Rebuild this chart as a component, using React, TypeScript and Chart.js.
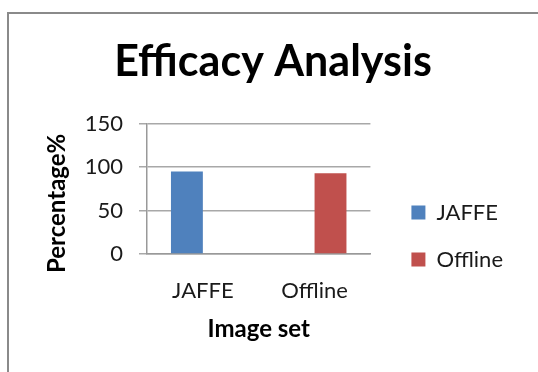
import React, { useEffect, useRef } from "react";
import { Chart, registerables } from "chart.js";

Chart.register(...registerables);

const categories = ["JAFFE", "Offline"];
const seriesNames = ["JAFFE", "Offline"];
const jaffeValues = [95, null];
const offlineValues = [null, 93];
const yTicks = [0, 50, 100, 150];

const FONT = "Lato, 'Open Sans', sans-serif";

export default function App() {
  const ref = useRef<HTMLCanvasElement | null>(null);

  useEffect(() => {
    if (!ref.current) return;
    const chart = new Chart(ref.current, {
      type: "bar",
      data: {
        labels: categories,
        datasets: [
          {
            label: seriesNames[0],
            data: jaffeValues,
            backgroundColor: "#4F81BD",
            categoryPercentage: 0.571,
            barPercentage: 1,
          },
          {
            label: seriesNames[1],
            data: offlineValues,
            backgroundColor: "#C0504D",
            categoryPercentage: 0.571,
            barPercentage: 1,
          },
        ],
      },
      options: {
        responsive: false,
        animation: false,
        layout: { padding: { left: 33, right: 25, top: 0, bottom: 20 } },
        plugins: {
          title: {
            display: true,
            text: "Efficacy Analysis",
            color: "#000",
            font: { family: FONT, size: 43, weight: "bold" },
            padding: { top: 36, bottom: 36 },
          },
          legend: {
            position: "right",
            maxWidth: 220,
            title: {
              display: true,
              text: " ",
              font: { family: FONT, size: 100 },
              padding: 0,
            },
            labels: {
              boxWidth: 14,
              boxHeight: 14,
              padding: 25,
              color: "#1a1a1a",
              font: { family: FONT, size: 22 },
            },
          },
          tooltip: { enabled: false },
        },
        scales: {
          x: {
            afterFit: (s: any) => {
              s.height = 98;
            },
            grid: { display: false, drawTicks: false },
            border: { display: true, color: "#999", width: 1.5 },
            ticks: {
              color: "#1a1a1a",
              font: { family: FONT, size: 22 },
              padding: 24,
            },
            title: {
              display: true,
              text: "Image set",
              color: "#000",
              font: { family: FONT, size: 24, weight: "bold" },
              padding: { top: 0, bottom: 8 },
            },
          },
          y: {
            min: 0,
            max: 150,
            afterFit: (s: any) => {
              s.width = 114;
            },
            afterBuildTicks: (s: any) => {
              s.ticks = yTicks.map((v) => ({ value: v }));
            },
            grid: { color: "#a8a8a8", lineWidth: 1.5, tickLength: 8 },
            border: { display: true, color: "#999", width: 1.5 },
            ticks: {
              color: "#1a1a1a",
              font: { family: FONT, size: 22 },
              padding: 16,
            },
            title: {
              display: true,
              text: "Percentage%     ",
              color: "#000",
              font: { family: FONT, size: 24, weight: "bold" },
              padding: { top: 10, bottom: 0 },
            },
          },
          spacer: {
            type: "linear",
            position: "right",
            display: true,
            grid: { display: false, drawTicks: false },
            border: { display: false },
            ticks: { display: false },
            afterFit: (s: any) => {
              s.width = 16;
            },
          },
        },
      },
    });
    return () => chart.destroy();
  }, []);

  return (
    <div
      style={{
        position: "absolute",
        left: 0,
        top: 0,
        width: 538,
        height: 372,
        background: "#fff",
        overflow: "hidden",
      }}
    >
      <div
        style={{
          position: "absolute",
          left: 7,
          top: 12,
          width: 600,
          height: 500,
          borderLeft: "2px solid #8a8a8a",
          borderTop: "2px solid #8a8a8a",
        }}
      />
      <canvas
        ref={ref}
        width={538}
        height={372}
        style={{ position: "absolute", left: 0, top: 0 }}
      />
    </div>
  );
}
